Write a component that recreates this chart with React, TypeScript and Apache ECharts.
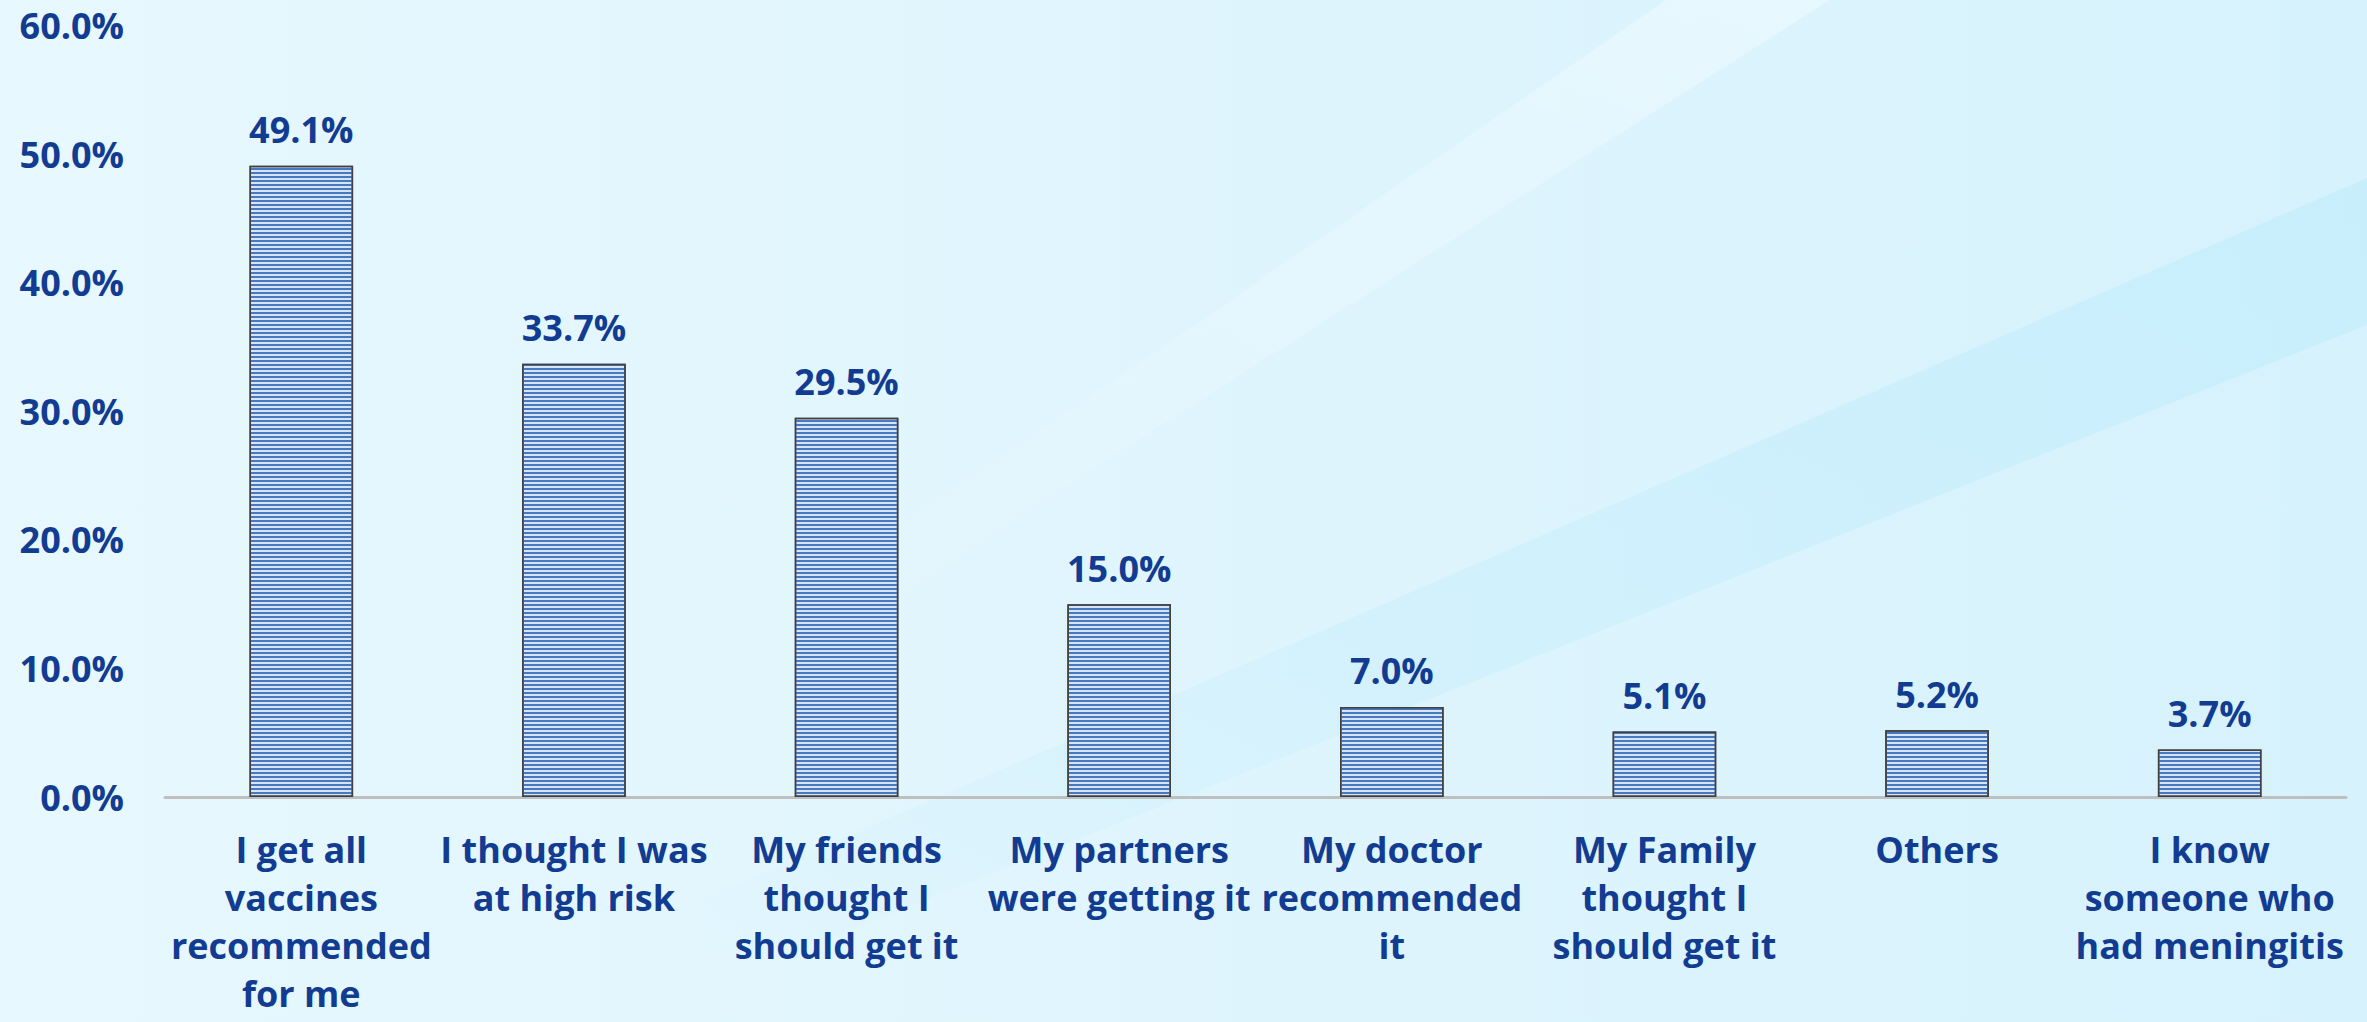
import React, { useEffect, useRef } from "react";
import * as echarts from "echarts";

const categories = [
  "I get all\nvaccines\nrecommended\nfor me",
  "I thought I was\nat high risk",
  "My friends\nthought I\nshould get it",
  "My partners\nwere getting it",
  "My doctor\nrecommended\nit",
  "My Family\nthought I\nshould get it",
  "Others",
  "I know\nsomeone who\nhad meningitis",
];
const values = [49.1, 33.7, 29.5, 15.0, 7.0, 5.1, 5.2, 3.7];
const yMin = 0;
const yMax = 60;
const yInterval = 10;

const W = 2367;
const H = 1022;
const TEXT = "#123c91";
const FONT = "'Open Sans', 'Noto Sans', sans-serif";

export default function App() {
  const ref = useRef<HTMLDivElement>(null);
  useEffect(() => {
    document.body.style.margin = "0";
    if (!ref.current) return;
    const chart = echarts.init(ref.current, null, { renderer: "svg", width: W, height: H });
    const option: any = {
      animation: false,
      graphic: [
        {
          type: "rect",
          z: -10,
          silent: true,
          shape: { x: 0, y: 0, width: W, height: H },
          style: {
            fill: new echarts.graphic.LinearGradient(0, 0, 1, 0, [
              { offset: 0, color: "#e7f8fe" },
              { offset: 0.45, color: "#e0f5fd" },
              { offset: 1, color: "#d6f2fc" },
            ]),
          },
        },
        {
          type: "polygon",
          z: -9,
          silent: true,
          shape: {
            points: [
              [1666, 0],
              [1830, 0],
              [760, 680],
              [680, 680],
            ],
          },
          style: {
            fill: new echarts.graphic.LinearGradient(1, 0, 0, 1, [
              { offset: 0, color: "rgba(236,249,255,0.7)" },
              { offset: 1, color: "rgba(236,249,255,0)" },
            ]),
          },
        },
        {
          type: "polygon",
          z: -9,
          silent: true,
          shape: {
            points: [
              [W, 178],
              [W, 325],
              [700, 990],
              [700, 900],
            ],
          },
          style: {
            fill: new echarts.graphic.LinearGradient(1, 0, 0, 1, [
              { offset: 0, color: "rgba(192,236,252,0.65)" },
              { offset: 0.6, color: "rgba(192,236,252,0.35)" },
              { offset: 1, color: "rgba(192,236,252,0)" },
            ]),
          },
        },
      ],
      grid: {
        left: 165,
        right: 21,
        top: 25.5,
        bottom: 225,
        containLabel: false,
        outerBoundsMode: "none",
      },
      xAxis: {
        type: "category",
        data: categories,
        axisLine: { show: true, lineStyle: { color: "#bfbfbf", width: 3 } },
        axisTick: { show: false },
        axisLabel: {
          interval: 0,
          margin: 28,
          color: TEXT,
          fontFamily: FONT,
          fontWeight: "bold",
          fontSize: 36,
          lineHeight: 48,
          align: "center",
        },
      },
      yAxis: {
        type: "value",
        min: yMin,
        max: yMax,
        interval: yInterval,
        axisLine: { show: false },
        axisTick: { show: false },
        splitLine: { show: false },
        axisLabel: {
          margin: 41,
          color: TEXT,
          fontFamily: FONT,
          fontWeight: "bold",
          fontSize: 36,
          formatter: (v: number) => v.toFixed(1) + "%",
        },
      },
      series: [
        {
          type: "bar",
          data: values,
          barWidth: "38%",
          itemStyle: {
            color: "#d8e4f3",
            borderColor: "#404040",
            borderWidth: 1.5,
            decal: {
              symbol: "rect",
              symbolSize: 1,
              color: "#4679c2",
              dashArrayX: [1, 0],
              dashArrayY: [2, 2],
              rotation: 0,
            },
          },
          label: {
            show: true,
            position: "top",
            distance: 16,
            color: TEXT,
            fontFamily: FONT,
            fontWeight: "bold",
            fontSize: 36,
            lineHeight: 40,
            formatter: (p: any) => Number(p.value).toFixed(1) + "%",
          },
        },
      ],
    };
    chart.setOption(option);
    return () => chart.dispose();
  }, []);
  return <div ref={ref} style={{ width: W, height: H }} />;
}
